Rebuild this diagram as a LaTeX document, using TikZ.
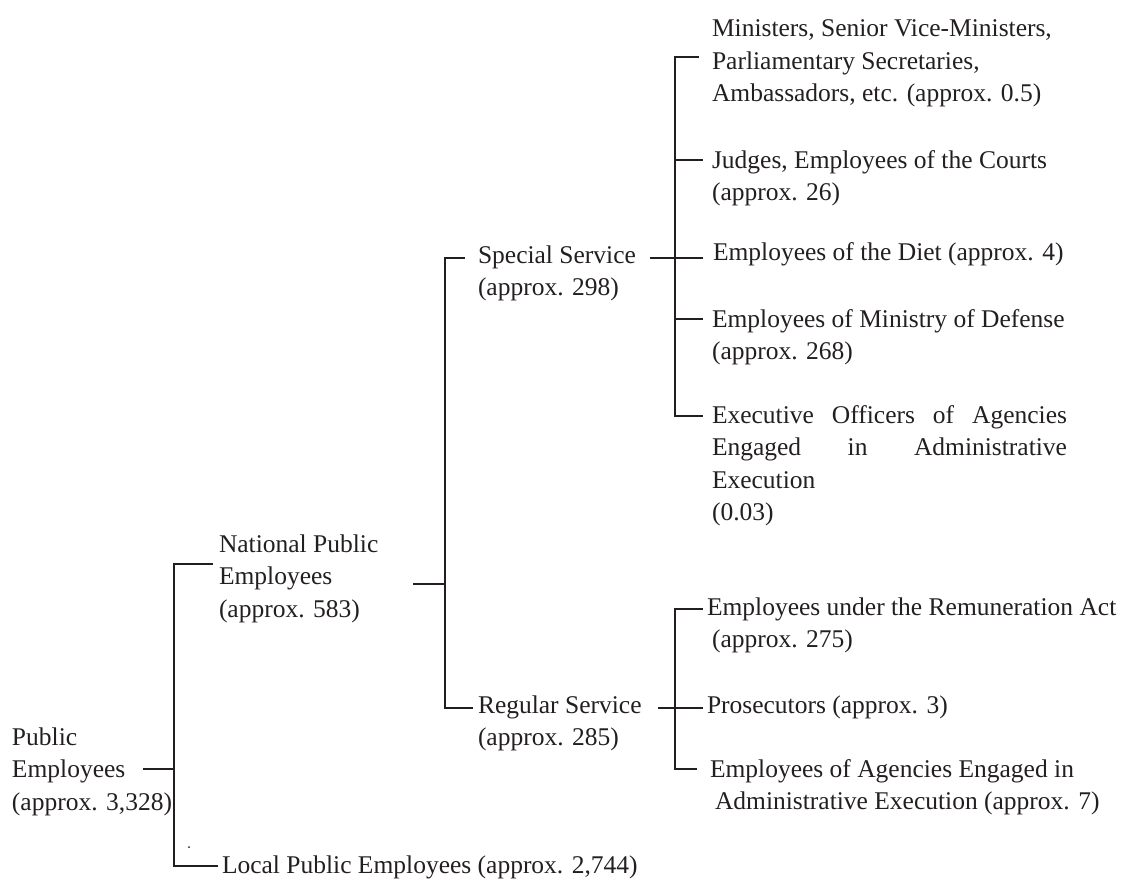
\documentclass[tikz,border=0pt]{standalone}
\usepackage{fontspec}
\setmainfont{Liberation Serif}
\newcommand{\stk}[1]{\begin{tabular}[t]{@{}l@{}}#1\end{tabular}}
\definecolor{ink}{HTML}{231F20}
\begin{document}
\begin{tikzpicture}[x=1pt,y=-1pt,
  lbl/.style={anchor=base west, inner sep=0pt, outer sep=0pt, text=ink,
    font=\fontsize{25.5}{32.5}\selectfont},
  conn/.style={draw=ink, line width=1.8pt}]
\useasboundingbox (0,0) rectangle (1121,880);

% ---- texts ----
\node[lbl] (pub) at (12,745) {\stk{Public\\Employees\\(approx. 3,328)}};
\node[lbl] (nat) at (219,552) {\stk{National Public\\Employees\\(approx. 583)}};
\node[lbl] (loc) at (222,873) {Local Public Employees (approx. 2,744)};
\node[lbl] (spe) at (478,263) {\stk{Special Service\\(approx. 298)}};
\node[lbl] (reg) at (478,713) {\stk{Regular Service\\(approx. 285)}};
\node[lbl] (min) at (712,37) {\stk{Ministers, Senior Vice-Ministers,\\Parliamentary Secretaries,\\Ambassadors, etc. (approx. 0.5)}};
\node[lbl] (jud) at (712,168) {\stk{Judges, Employees of the Courts\\(approx. 26)}};
\node[lbl] (die) at (713,260) {Employees of the Diet (approx. 4)};
\node[lbl] (def) at (712,327) {\stk{Employees of Ministry of Defense\\(approx. 268)}};
\node[lbl] (exe) at (712,423) {\stk{\makebox[355pt][s]{Executive Officers of Agencies}\\
  \makebox[355pt][s]{Engaged in Administrative}\\Execution\\(0.03)}};
\node[lbl] (rem) at (707,615) {\stk{Employees under the Remuneration Act\\\hspace*{5pt}(approx. 275)}};
\node[lbl] (pro) at (707,713) {Prosecutors (approx. 3)};
\node[lbl] (age) at (710,777) {\stk{Employees of Agencies Engaged in\\\hspace*{5pt}Administrative Execution (approx. 7)}};

% ---- junction coordinates ----
\coordinate (pubR) at (143,769);
\coordinate (v1m) at (174,769);
\coordinate (v1t) at (174,564);
\coordinate (v1b) at (174,866);
\coordinate (natL) at (213,564);
\coordinate (locL) at (218,866);

\coordinate (natR) at (413,584);
\coordinate (v2m) at (445,584);
\coordinate (v2t) at (445,258);
\coordinate (v2b) at (445,708);
\coordinate (speL) at (465,258);
\coordinate (regL) at (473,708);

\coordinate (speR) at (650,258);
\coordinate (v3t) at (675,57);
\coordinate (v3j) at (675,160);
\coordinate (v3m) at (675,258);
\coordinate (v3d) at (675,319);
\coordinate (v3b) at (675,416);
\coordinate (minL) at (699,57);
\coordinate (judL) at (703,160);
\coordinate (dieL) at (703,258);
\coordinate (defL) at (703,319);
\coordinate (exeL) at (703,416);

\coordinate (regR) at (658,708);
\coordinate (v4t) at (675,609);
\coordinate (v4m) at (675,708);
\coordinate (v4b) at (675,769);
\coordinate (remL) at (703,609);
\coordinate (proL) at (703,708);
\coordinate (ageL) at (697,769);

% ---- connectors ----
\draw[conn] (pubR) -- (v1m);
\draw[conn] (natL) -- (v1t) -- (v1b) -- (locL);

\draw[conn] (natR) -- (v2m);
\draw[conn] (speL) -- (v2t) -- (v2b) -- (regL);

\draw[conn] (speR) -- (dieL);
\draw[conn] (minL) -- (v3t) -- (v3b) -- (exeL);
\draw[conn] (v3j) -- (judL);
\draw[conn] (v3d) -- (defL);

\draw[conn] (regR) -- (proL);
\draw[conn] (remL) -- (v4t) -- (v4b) -- (ageL);

% stray dot
\fill[ink] (189,847) circle (1pt);
\end{tikzpicture}
\end{document}
